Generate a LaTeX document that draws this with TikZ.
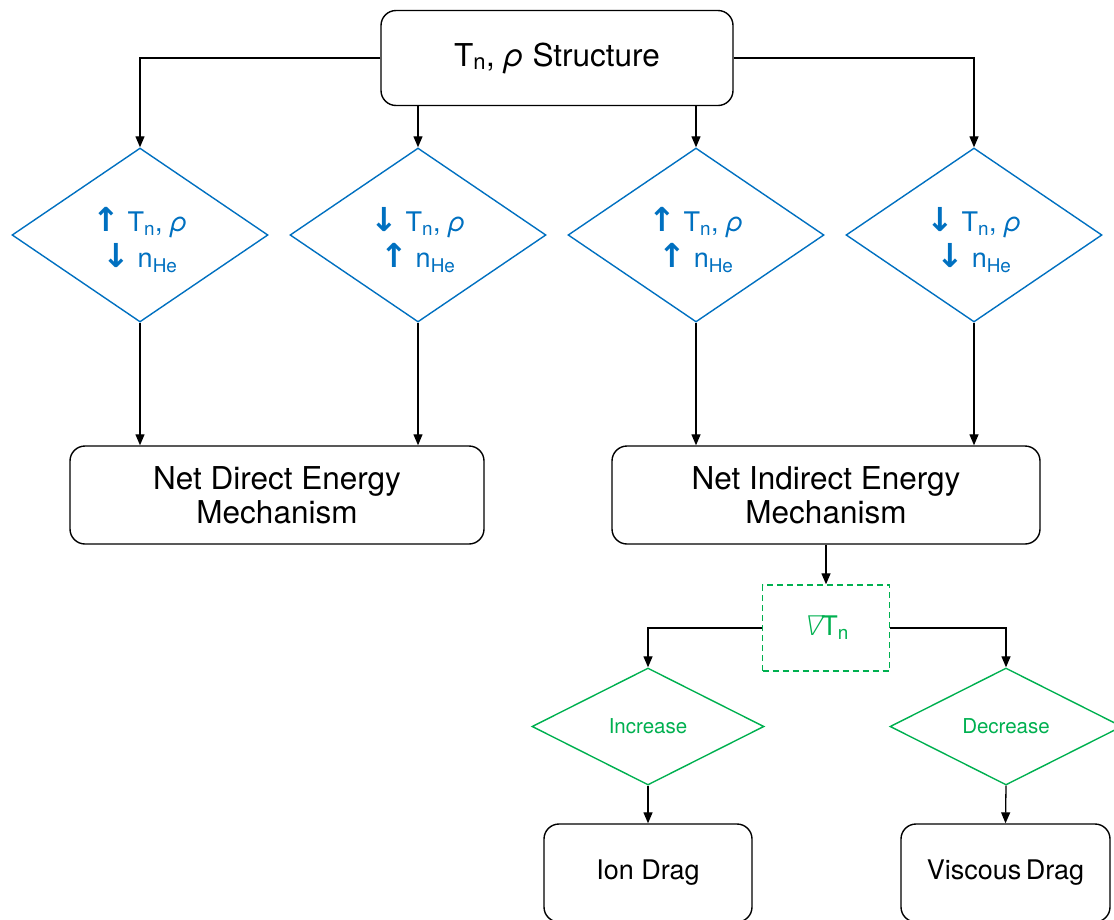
\documentclass[tikz,border=0pt]{standalone}
\usepackage{fontspec}
\setmainfont{TeX Gyre Heros}
\newfontfamily\arrowfont{DejaVu Sans}
\newfontfamily\slantsym[FakeSlant=0.22]{DejaVu Sans ExtraLight}
\usetikzlibrary{shapes.geometric,arrows.meta}

\definecolor{flowblue}{HTML}{0070C0}
\definecolor{flowgreen}{HTML}{00B050}

\newcommand{\upar}{{\fontsize{33}{36}\selectfont\arrowfont\bfseries ↑}}
\newcommand{\dnar}{{\fontsize{33}{36}\selectfont\arrowfont\bfseries ↓}}
\newcommand{\Tn}{T\textsubscript{n}}
\newcommand{\nHe}{n\textsubscript{He}}
\newcommand{\rh}{{\itshape ρ}}

\tikzset{
  stepbox/.style={draw=black, line width=1.4pt, rounded corners=15pt, align=center,
    inner sep=0pt, font=\fontsize{31.5}{34}\selectfont},
  smallbox/.style={stepbox, font=\fontsize{27}{31}\selectfont},
  choice/.style={diamond, draw=flowblue, line width=1.4pt, inner sep=0pt,
    minimum width=256pt, minimum height=174pt, text=flowblue, align=center,
    font=\fontsize{27}{36}\selectfont},
  gchoice/.style={diamond, draw=flowgreen, line width=1.4pt, inner sep=0pt,
    minimum width=232pt, minimum height=117pt, text=flowgreen, align=center,
    font=\fontsize{20.5}{24}\selectfont},
  gradbox/.style={draw=flowgreen, line width=1.4pt, dash pattern=on 6pt off 4pt,
    inner sep=0pt, minimum width=127pt, minimum height=86pt, text=flowgreen,
    font=\fontsize{27}{31}\selectfont},
  arr/.style={draw=black, line width=1.3pt, -{Triangle[length=11pt,width=9pt]}},
}

\begin{document}
\begin{tikzpicture}[x=1pt, y=-1pt]
\useasboundingbox (0,0) rectangle (1114,919);
\clip (0,0) rectangle (1114,919);

% source of all branches
\node[stepbox, minimum width=352pt, minimum height=95pt] (top) at (557,58)
  {\Tn, \rh\ Structure};

% the four combinations of temperature/density and helium
\node[choice] (d1) at (140,235) {};
\node[choice] (d2) at (418,235) {};
\node[choice] (d3) at (696,235) {};
\node[choice] (d4) at (974,235) {};
\node[text=flowblue, align=center, font=\fontsize{27}{36}\selectfont] (t1) at (140,240) {\upar\ \Tn, \rh\\\dnar\ \nHe};
\node[text=flowblue, align=center, font=\fontsize{27}{36}\selectfont] (t2) at (418,240) {\dnar\ \Tn, \rh\\\upar\ \nHe};
\node[text=flowblue, align=center, font=\fontsize{27}{36}\selectfont] (t3) at (696,240) {\upar\ \Tn, \rh\\\upar\ \nHe};
\node[text=flowblue, align=center, font=\fontsize{27}{36}\selectfont] (t4) at (974,240) {\dnar\ \Tn, \rh\\\dnar\ \nHe};

% resulting mechanisms
\node[stepbox, minimum width=414pt, minimum height=98pt] (direct) at (277,495)
  {Net Direct Energy\\Mechanism};
\node[stepbox, minimum width=428pt, minimum height=98pt] (indirect) at (826,495)
  {Net Indirect Energy\\Mechanism};

% gradient of neutral temperature
\node[gradbox] (grad) at (826,628) {{\slantsym ∇}\Tn};

\node[gchoice] (inc) at (648,726.5) {Increase};
\node[gchoice] (dec) at (1006,726.5) {Decrease};

\node[smallbox, minimum width=208pt, minimum height=98pt] (ion) at (648,873) {Ion Drag};
\node[smallbox, minimum width=209pt, minimum height=98pt] (visc) at (1005.5,873) {Viscous\,Drag};

% connectors
\draw[arr] (top.west) -| (d1.north);
\draw[arr] (d2.north |- top.south) -- (d2.north);
\draw[arr] (d3.north |- top.south) -- (d3.north);
\draw[arr] (top.east) -| (d4.north);

\draw[arr] (d1.south) -- (d1.south |- direct.north);
\draw[arr] (d2.south) -- (d2.south |- direct.north);
\draw[arr] (d3.south) -- (d3.south |- indirect.north);
\draw[arr] (d4.south) -- (d4.south |- indirect.north);

\draw[arr] (indirect.south) -- (grad.north);
\draw[arr] (grad.west) -| (inc.north);
\draw[arr] (grad.east) -| (dec.north);
\draw[arr] (inc.south) -- (ion.north);
\draw[arr] (dec.south) -- (visc.north);
\end{tikzpicture}
\end{document}
